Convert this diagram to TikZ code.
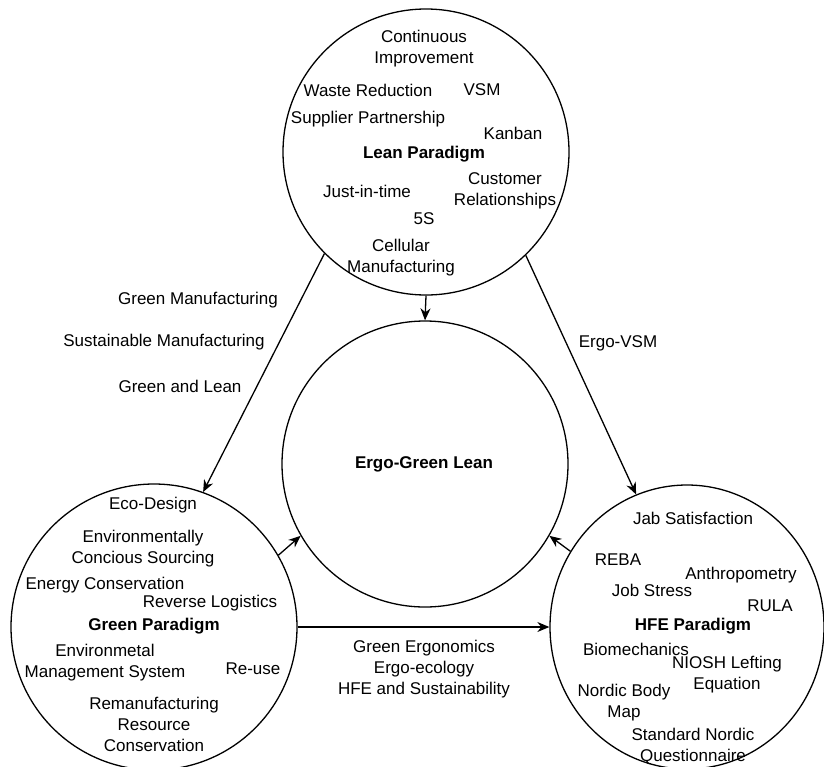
\documentclass[tikz,border=0pt]{standalone}
\usepackage{fontspec}
\setmainfont{Liberation Sans}
\usetikzlibrary{arrows.meta,shapes.geometric}
\begin{document}
\begin{tikzpicture}[x=1pt,y=-1pt,
  every node/.style={font=\fontsize{17}{21}\selectfont, align=center, inner sep=0pt},
  ring/.style={draw, circle, line width=1.3pt, minimum size=286pt},
  oval/.style={draw, ellipse, line width=1.3pt, minimum width=274pt, minimum height=284pt},
  bold/.style={font=\fontsize{17}{21}\selectfont\bfseries},
  conn/.style={line width=1.3pt, -{Stealth[length=12pt,width=10pt]}}]
\clip (0,0) rectangle (824,766);
% circles
\node[ring] (lean) at (426,152) {};
\node[ring] (egl) at (425,464) {};
\node[ring] (green) at (154,627) {};
\node[oval] (hfe) at (687,627) {};
% lean texts
\node (t1) at (424,49) {Continuous\\Improvement};
\node (t2) at (368,90) {Waste Reduction};
\node (t3) at (482,90) {VSM};
\node (t4) at (368,119) {Supplier Partnership};
\node (t5) at (513,133) {Kanban};
\node[bold] (t6) at (424,154) {Lean Paradigm};
\node (t7) at (367,191) {Just-in-time};
\node (t8) at (505,191) {Customer\\Relationships};
\node (t9) at (424,219) {5S};
\node (t10) at (401,258) {Cellular\\Manufacturing};
% middle
\node[bold] (m1) at (424,464) {Ergo-Green Lean};
% green texts
\node (g1) at (153,505) {Eco-Design};
\node (g2) at (143,549) {Environmentally\\Concious Sourcing};
\node (g3) at (105,585) {Energy Conservation};
\node (g4) at (210,603) {Reverse Logistics};
\node[bold] (g5) at (154,626) {Green Paradigm};
\node (g6) at (105,663) {Environmetal\\Management System};
\node (g7) at (253,669) {Re-use};
\node (g8) at (154,724) {Remanufacturing\\Resource\\Conservation};
% hfe texts
\node (h1) at (693,518) {Jab Satisfaction};
\node (h2) at (618,560) {REBA};
\node (h3) at (741,575) {Anthropometry};
\node (h4) at (652,590) {Job Stress};
\node (h5) at (770,606) {RULA};
\node[bold] (h6) at (693,626) {HFE Paradigm};
\node (h7) at (636,649) {Biomechanics};
\node (h8) at (727,675) {NIOSH Lefting\\Equation};
\node (h9) at (624,703) {Nordic Body\\Map};
\node (h10) at (693,746) {Standard Nordic\\Questionnaire};
% edge labels
\node (e1) at (198,300) {Green Manufacturing};
\node (e2) at (164,342) {Sustainable Manufacturing};
\node (e3) at (180,386) {Green and Lean};
\node (e4) at (618,343) {Ergo-VSM};
\node (e5) at (424,669) {Green Ergonomics\\Ergo-ecology\\HFE and Sustainability};
% connectors
\draw[conn] (lean.south) -- (egl.north);
\draw[conn] (lean.225.5) -- (green.70.3);
\draw[conn] (lean.314.4) -- (hfe.111.5);
\draw[conn] (green.east) -- (hfe.west);
\draw[conn] (green.30) -- (egl.210);
\draw[conn] (hfe.147) -- (egl.330);
\end{tikzpicture}
\end{document}
